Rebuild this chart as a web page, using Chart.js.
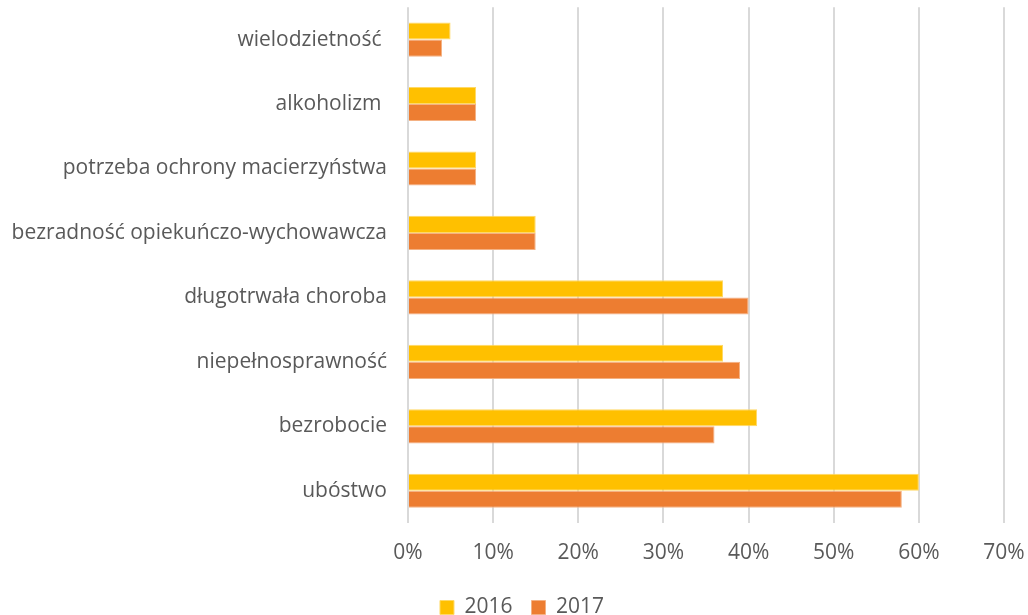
<!DOCTYPE html>
<html>
<head>
<meta charset="utf-8">
<script src="https://cdn.jsdelivr.net/npm/chart.js@4"></script>
<style>
  html, body { margin: 0; padding: 0; background: #fff; }
  #wrap { width: 1028px; height: 615px; }
</style>
</head>
<body>
<div id="wrap"><canvas id="chart"></canvas></div>
<script>
const categories = [
  "wielodzietność ",
  "alkoholizm ",
  "potrzeba ochrony macierzyństwa",
  "bezradność opiekuńczo-wychowawcza",
  "długotrwała choroba",
  "niepełnosprawność",
  "bezrobocie",
  "ubóstwo",
];
const values2016 = [5, 8, 8, 15, 37, 37, 41, 60];
const values2017 = [4, 8, 8, 15, 40, 39, 36, 58];
const seriesNames = ["2016", "2017"];

const textColor = "#595959";
const fontFamily = "Open Sans, sans-serif";

// the legend in the original sits a bit right of the page centre
const legendShift = {
  id: "legendShift",
  afterLayout(chart) {
    chart.legend.left += 20;
    chart.legend.right += 20;
  },
};

const ctx = document.getElementById("chart");
const chart = new Chart(ctx, {
  type: "bar",
  data: {
    labels: categories,
    datasets: [
      {
        label: seriesNames[0],
        data: values2016,
        backgroundColor: "#FFC000",
        borderColor: "#FFD966",
        borderWidth: 1,
      },
      {
        label: seriesNames[1],
        data: values2017,
        backgroundColor: "#ED7D31",
        borderColor: "#F4B183",
        borderWidth: 1,
      },
    ],
  },
  plugins: [legendShift],
  options: {
    indexAxis: "y",
    responsive: true,
    maintainAspectRatio: false,
    animation: false,
    layout: {
      padding: { top: 0, right: 24, left: 0, bottom: -13 },
    },
    datasets: {
      bar: {
        categoryPercentage: 0.53,
        barPercentage: 1,
      },
    },
    plugins: {
      legend: {
        position: "bottom",
        labels: {
          color: textColor,
          font: { family: fontFamily, size: 21 },
          boxWidth: 14,
          boxHeight: 14,
          padding: 19,
        },
      },
      tooltip: { enabled: false },
    },
    scales: {
      x: {
        min: 0,
        max: 70,
        ticks: {
          stepSize: 10,
          color: textColor,
          font: { family: fontFamily, size: 21 },
          padding: 0,
          callback: (v) => v + "%",
        },
        grid: {
          color: "#d9d9d9",
          lineWidth: 2,
          drawTicks: true,
          tickLength: 17,
          tickColor: "rgba(0,0,0,0)",
        },
        border: { display: false },
        afterFit: (scale) => { scale.height = 55; },
      },
      y: {
        ticks: {
          color: textColor,
          font: { family: fontFamily, size: 21, lineHeight: 0.7 },
          padding: 0,
        },
        grid: { display: false, tickLength: 21 },
        border: { display: false },
        afterFit: (scale) => { scale.width = 408; },
      },
    },
  },
});
</script>
</body>
</html>
